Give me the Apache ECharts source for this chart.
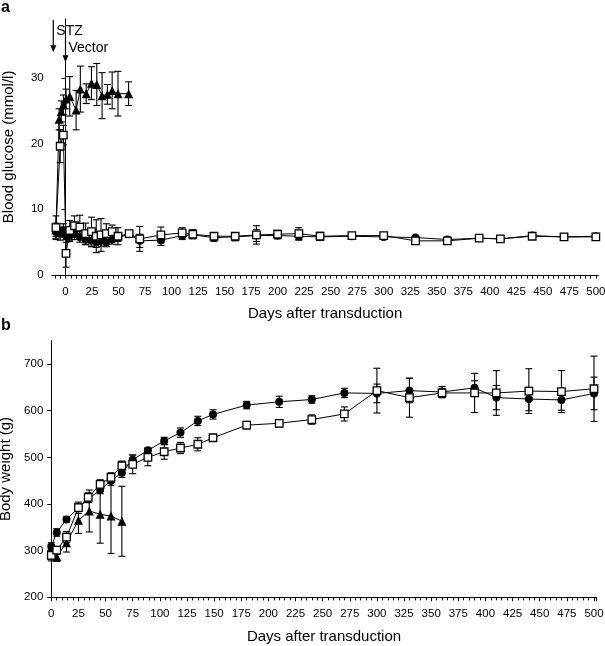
<!DOCTYPE html>
<html><head><meta charset="utf-8">
<script src="https://cdn.jsdelivr.net/npm/echarts@6/dist/echarts.min.js"></script>
<style>html,body{margin:0;padding:0;background:#fff}#c{width:605px;height:646px}</style>
</head><body><div id="c"></div>
<script>
// ---------- Panel a: blood glucose (mmol/l) ----------
const aDays     = [-9,-5,-2,0.5,4,8.5,13.5,19,24.5,29,33.5,38.5,44,49.5,60,70,90,110,120,140,160,180,200,220,240,270,300,330,360,390,410,440,470,500];
const aSqMean   = [7.2,19.6,21.3,3.3,6.8,7.5,7.3,6.3,6.6,5.9,6.1,6.3,6.6,5.9,6.3,5.5,6.1,6.4,6.2,5.9,5.9,6.1,6.2,6.3,5.9,6.0,6.0,5.2,5.2,5.6,5.5,5.9,5.8,5.8];
const aSqErr    = [1.8,2.5,1.5,2.1,1.5,1.5,1.8,1.6,2.2,2.5,2.5,1.5,1.0,1.3,0.4,1.9,1.2,0.8,0.7,0.5,0.5,1.4,0.6,0.9,0.6,0.3,0.3,0.3,0.3,0.3,0.3,0.3,0.3,0.5];
const aCircMean = [6.6,6.3,6.8,6.0,6.0,6.2,5.8,5.4,5.2,5.0,5.2,5.0,5.4,5.7,6.2,5.2,5.3,6.0,6.1,5.7,5.8,6.0,6.0,5.9,5.8,5.9,5.8,5.7,5.4,5.6,5.5,6.0,5.8,5.9];
const aCircErr  = [1.0,1.0,1.0,1.0,0.9,0.8,0.8,0.8,0.9,0.8,0.8,0.7,0.7,0.6,0.4,1.0,0.8,0.6,0.5,0.6,0.6,0.9,0.5,0.6,0.5,0.3,0.3,0.3,0.3,0.3,0.3,0.3,0.3,0.4];
const aTriDays  = [-9,-6,-4,-2,0.5,4,10,14,19.5,24.5,29.5,34.5,39.5,44,49.5,59.5];
const aTriMean  = [6.9,23.7,24.9,25.9,26.8,27.2,25.1,28.3,27.6,29.2,29.0,27.3,27.5,28.1,27.6,27.6];
const aTriErr   = [1.0,1.6,1.6,1.5,1.5,3.0,3.0,3.5,1.5,2.5,3.2,3.5,1.5,2.8,3.4,1.8];

// ---------- Panel b: body weight (g) ----------
const bDays     = [0,5,14,25,34,45,55,65,75,89,104,119,135,149,180,210,240,270,300,330,360,390,410,440,470,500];
const bCircMean = [309,339,367,392,410,430,450,467,495,515,535,553,578,592,612,619,624,638,637,643,640,649,628,625,623,637];
const bCircErr  = [8,8,6,8,7,8,10,10,10,6,8,10,10,10,8,12,8,10,20,26,12,15,26,25,22,35];
const bSqMean   = [290,301,329,392,414,442,457,482,485,500,512,520,528,542,569,573,581,593,643,628,638,638,638,642,641,647];
const bSqErr    = [12,8,12,12,10,10,10,10,20,18,16,12,14,6,8,8,10,15,48,42,10,42,48,48,45,70];
const bTriDays  = [0,5,14,25,35,45,55,65];
const bTriMean  = [297,287,317,365,385,378,374,363];
const bTriErr   = [15,10,20,28,45,62,80,75];

// ---------- tick labels ----------
const xTickLabels = [0,25,50,75,100,125,150,175,200,225,250,275,300,325,350,375,400,425,450,475,500];
const xTicksA = [];
for (let v = -10; v <= 500; v += 5) xTicksA.push(v);

// annotations (day, glucose)
const stzArrow = {day: -11.5, from: 38.8, to: 33.9, label: 'STZ'};
const vecArrow = {day: 0, from: 36.2, to: 32.4, label: 'Vector'};

const FONT = 'Liberation Sans, Arial, Helvetica, sans-serif';
const BLACK = '#000';

function pts(days, mean){ return days.map((d,i)=>[d, mean[i]]); }
function errData(days, mean, err){ return days.map((d,i)=>[d, mean[i]-err[i], mean[i]+err[i]]); }
function errSeries(gi, data){
  return {
    type:'custom', xAxisIndex: gi, yAxisIndex: gi, data: data, silent:true, z:2,
    renderItem: function(params, api){
      const x = api.value(0);
      const p1 = api.coord([x, api.value(2)]);
      const p2 = api.coord([x, api.value(1)]);
      const w = 3.5, st = {stroke: BLACK, lineWidth: 1.1};
      return {type:'group', children:[
        {type:'line', shape:{x1:p1[0], y1:p1[1], x2:p2[0], y2:p2[1]}, style: st},
        {type:'line', shape:{x1:p1[0]-w, y1:p1[1], x2:p1[0]+w, y2:p1[1]}, style: st},
        {type:'line', shape:{x1:p2[0]-w, y1:p2[1], x2:p2[0]+w, y2:p2[1]}, style: st}
      ]};
    }
  };
}
function lineSeries(gi, data, kind){
  const s = {
    type:'line', xAxisIndex: gi, yAxisIndex: gi, data: data, silent:true, z:3,
    lineStyle:{color:BLACK, width:1}, showAllSymbol:true, animation:false
  };
  if (kind === 'sq'){ s.symbol='rect'; s.symbolSize=7.5; s.itemStyle={color:'#fff', borderColor:BLACK, borderWidth:1.3}; s.z=4; }
  else if (kind === 'tri'){ s.symbol='triangle'; s.symbolSize=9; s.itemStyle={color:BLACK}; }
  else { s.symbol='circle'; s.symbolSize=8; s.itemStyle={color:BLACK}; }
  return s;
}

const axisLineStyle = {show:true, lineStyle:{color:BLACK, width:1}};
const tickLabel = {color:BLACK, fontFamily:FONT, fontSize:11.5};
const nameStyle = {color:BLACK, fontFamily:FONT, fontSize:15};

const chart = echarts.init(document.getElementById('c'));
chart.setOption({
  animation:false,
  backgroundColor:'#fff',
  grid:[
    {left:51.7, right:6.5, top:18.8, height:256.2, containLabel:false, outerBoundsMode:'none'},
    {left:51.3, right:8.3, top:340.7, height:256.6, containLabel:false, outerBoundsMode:'none'}
  ],
  xAxis:[
    {gridIndex:0, type:'value', position:'bottom', min:-13, max:502.5, axisLine:axisLineStyle, splitLine:{show:false},
     axisTick:{show:true, customValues:xTicksA, length:3.5, lineStyle:{color:BLACK}},
     axisLabel:Object.assign({customValues:xTickLabels, margin:11}, tickLabel),
     name:'Days after transduction', nameLocation:'middle', nameGap:31, nameTextStyle:nameStyle},
    {gridIndex:1, type:'value', position:'bottom', min:0, max:502.5, interval:25, axisLine:axisLineStyle, splitLine:{show:false},
     axisTick:{show:true, length:4, lineStyle:{color:BLACK}},
     minorTick:{show:true, splitNumber:5, length:3, lineStyle:{color:BLACK}},
     axisLabel:Object.assign({margin:11, showMaxLabel:false}, tickLabel),
     name:'Days after transduction', nameLocation:'middle', nameGap:32, nameTextStyle:nameStyle}
  ],
  yAxis:[
    {gridIndex:0, type:'value', min:0, max:39, interval:10, axisLine:axisLineStyle, splitLine:{show:false},
     axisTick:{show:true, length:4, lineStyle:{color:BLACK}}, axisLabel:Object.assign({margin:8, showMaxLabel:false}, tickLabel),
     name:'Blood glucose (mmol/l)', nameLocation:'middle', nameGap:35, nameTextStyle:nameStyle},
    {gridIndex:1, type:'value', min:200, max:750, interval:100, axisLine:axisLineStyle, splitLine:{show:false},
     axisTick:{show:true, length:4, lineStyle:{color:BLACK}}, axisLabel:Object.assign({margin:8, showMaxLabel:false}, tickLabel),
     name:'Body weight (g)', nameLocation:'middle', nameGap:35, nameTextStyle:nameStyle}
  ],
  series:[
    errSeries(0, errData(aTriDays, aTriMean, aTriErr)),
    errSeries(0, errData(aDays, aCircMean, aCircErr)),
    errSeries(0, errData(aDays, aSqMean, aSqErr)),
    lineSeries(0, pts(aTriDays, aTriMean), 'tri'),
    lineSeries(0, pts(aDays, aCircMean), 'circ'),
    lineSeries(0, pts(aDays, aSqMean), 'sq'),
    errSeries(1, errData(bTriDays, bTriMean, bTriErr)),
    errSeries(1, errData(bDays, bCircMean, bCircErr)),
    errSeries(1, errData(bDays, bSqMean, bSqErr)),
    lineSeries(1, pts(bTriDays, bTriMean), 'tri'),
    lineSeries(1, pts(bDays, bCircMean), 'circ'),
    lineSeries(1, pts(bDays, bSqMean), 'sq')
  ]
});

function arrowGraphics(a){
  const p1 = chart.convertToPixel({gridIndex:0}, [a.day, a.from]);
  const p2 = chart.convertToPixel({gridIndex:0}, [a.day, a.to]);
  const hw = 3, hh = 7;
  return [
    {type:'line', shape:{x1:p1[0], y1:p1[1], x2:p2[0], y2:p2[1]-hh+1}, style:{stroke:BLACK, lineWidth:1.2}},
    {type:'polygon', shape:{points:[[p2[0]-hw, p2[1]-hh],[p2[0]+hw, p2[1]-hh],[p2[0], p2[1]]]}, style:{fill:BLACK}},
    {type:'text', x:p1[0]+3, y:p1[1]+4, style:{text:a.label, fill:BLACK, font:'14px ' + FONT, textVerticalAlign:'top'}}
  ];
}
chart.setOption({graphic:[
  {type:'text', left:1, top:0, style:{text:'a', fill:BLACK, font:'bold 16px ' + FONT}},
  {type:'text', left:1, top:318, style:{text:'b', fill:BLACK, font:'bold 16px ' + FONT}}
].concat(arrowGraphics(stzArrow), arrowGraphics(vecArrow))});
</script>
</body></html>
